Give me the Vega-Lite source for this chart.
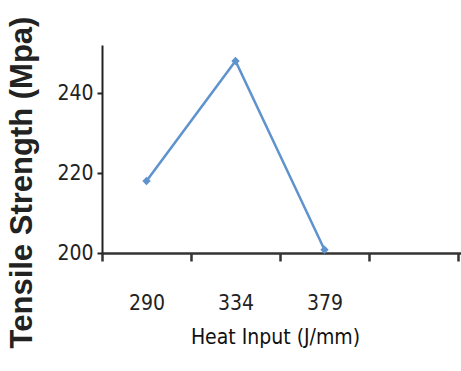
{
  "$schema": "https://vega.github.io/schema/vega-lite/v6.json",
  "width": 356,
  "height": 208,
  "autosize": "none",
  "padding": {"left": 102, "top": 45, "right": 3, "bottom": 118},
  "background": "white",
  "config": {"view": {"stroke": null}},
  "data": {"values": [
    {"heat": "290", "strength": 218},
    {"heat": "334", "strength": 248},
    {"heat": "379", "strength": 200.8}
  ]},
  "encoding": {
    "x": {
      "field": "heat", "type": "ordinal",
      "scale": {"type": "band", "domain": ["290", "334", "379", "-", "--"], "range": [0, 445], "paddingInner": 0, "paddingOuter": 0},
      "axis": {
        "title": "Heat Input (J/mm)", "labelAngle": 0, "tickBand": "extent",
        "labelExpr": "datum.label == '-' || datum.label == '--' ? '' : datum.label",
        "domainColor": "#333", "domainWidth": 2.5, "tickColor": "#333", "tickWidth": 2.5, "tickSize": 8,
        "labelFont": "DejaVu Sans Condensed", "labelFontSize": 21, "labelColor": "#222", "labelPadding": 31,
        "titleFont": "DejaVu Sans Condensed", "titleFontSize": 21, "titleFontWeight": "normal", "titleColor": "#111",
        "titleBaseline": "middle", "titleY": 84, "titleX": 173, "grid": false
      }
    },
    "y": {
      "field": "strength", "type": "quantitative",
      "scale": {"domain": [200, 252], "zero": false, "nice": false},
      "axis": {
        "title": "Tensile Strength (Mpa)", "values": [200, 220, 240],
        "domainColor": "#222", "domainWidth": 2, "tickColor": "#222", "tickWidth": 2, "tickSize": 5,
        "labelFont": "DejaVu Sans Condensed", "labelFontSize": 21, "labelColor": "#222", "labelPadding": 4,
        "titleFont": "Liberation Sans", "titleFontSize": 31, "titleFontWeight": "bold", "titleColor": "#222",
        "titleAngle": -90, "titleBaseline": "middle", "titleAlign": "center", "titleX": -80, "titleY": 137, "grid": false
      }
    }
  },
  "layer": [
    {"mark": {"type": "line", "color": "#5f93cd", "strokeWidth": 2.5}},
    {"mark": {"type": "point", "shape": "diamond", "filled": true, "color": "#5f93cd", "size": 70, "opacity": 1}}
  ]
}
